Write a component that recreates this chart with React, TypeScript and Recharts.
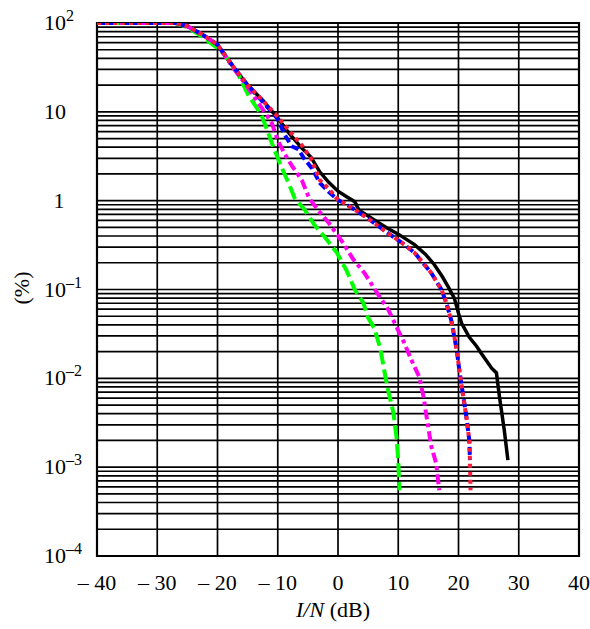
import { CartesianGrid, Line, LineChart, ReferenceArea, XAxis, YAxis } from "recharts"

// x: I/N (dB), y: percentage (log scale)
const xTicks = [-40, -30, -20, -10, 0, 10, 20, 30, 40]
const yDecades = [1e-4, 1e-3, 1e-2, 1e-1, 1, 10, 100]
const yMinorSteps = [2, 3, 4, 5, 6, 7, 8, 9]

const blackCurve = [
    [-40, 100], [-27, 100], [-25, 92], [-22.5, 74], [-20, 57], [-17.5, 33], [-15, 20],
    [-12.5, 13.5], [-10, 8.5], [-8, 5.6], [-6, 3.9], [-4.5, 3.1], [-3, 2.1], [-1.5, 1.6],
    [0, 1.28], [1.5, 1.1], [2.8, 0.97], [3.5, 0.78], [5.5, 0.64], [8, 0.5], [10, 0.42],
    [12.7, 0.32], [14.5, 0.25], [16, 0.19], [17.3, 0.14], [18.3, 0.107], [19.3, 0.08],
    [20, 0.054], [20.5, 0.042], [21.8, 0.029], [23, 0.023], [23.8, 0.019], [25.5, 0.013],
    [26.3, 0.0115], [26.8, 0.0062], [27.6, 0.0026], [28.2, 0.0012],
]

const greenCurve = [
    [-40, 100], [-27, 100], [-25, 90], [-22.5, 70], [-20, 52], [-18.8, 44], [-16.5, 26],
    [-14.9, 15.5], [-12.7, 9.2], [-12.2, 7.5], [-11, 4.5], [-9.4, 2.4], [-8.2, 1.58],
    [-7.2, 1.07], [-5.5, 0.785], [-3.9, 0.53], [-2.2, 0.39], [-0.2, 0.26], [1.4, 0.165],
    [2.8, 0.099], [4.2, 0.071], [5, 0.048], [6, 0.037], [7, 0.022], [7.7, 0.012],
    [8.3, 0.0074], [9.2, 0.0041], [9.7, 0.0022], [10, 0.0012], [10.2, 0.00055],
]

const magentaCurve = [
    [-40, 100], [-27, 100], [-25, 92], [-22.5, 74], [-20, 57], [-17.5, 32], [-15, 19],
    [-13.2, 12.5], [-12.2, 10], [-11, 7.5], [-10, 4.8], [-8.9, 3.4], [-7.7, 2.5], [-6, 1.7],
    [-4.8, 1.07], [-3.3, 0.78], [-1.6, 0.57], [0.9, 0.33], [2.5, 0.22], [4.4, 0.153],
    [6.9, 0.083], [8.3, 0.06], [9.4, 0.042], [11, 0.025], [12.2, 0.016], [13.5, 0.0103],
    [14.2, 0.0062], [14.7, 0.0037], [15.5, 0.0017], [16.3, 0.0011], [16.8, 0.00055],
]

const blueCurve = [
    [-40, 100], [-27, 100], [-25, 92], [-22.5, 74], [-20, 57], [-17.5, 33], [-15, 20],
    [-12.5, 13], [-10, 8.3], [-8.9, 5.6], [-7.7, 4.1], [-6.6, 3.8], [-5.5, 2.9], [-4.3, 2.3],
    [-3, 1.58], [-1.5, 1.25], [0, 1.02], [1.5, 0.9], [2.8, 0.79], [5, 0.63], [8.3, 0.43],
    [10.5, 0.34], [12.7, 0.26], [15.5, 0.153], [17.2, 0.099], [18, 0.07], [18.8, 0.045],
    [19.7, 0.021], [20.2, 0.0115], [20.8, 0.0062], [21.3, 0.0037], [21.8, 0.002], [21.9, 0.0012],
]

const redCurve = [
    [-40, 100], [-27, 100], [-25, 92], [-22.5, 74], [-20, 57], [-17.5, 33], [-15, 20],
    [-12.5, 13.5], [-10, 8.8], [-8, 6], [-6, 4.2], [-4.5, 3.0], [-3, 1.7], [-1.5, 1.35],
    [0, 1.02], [1.5, 0.9], [2.8, 0.79], [5, 0.63], [8.3, 0.43], [10.5, 0.34], [12.7, 0.26],
    [15.5, 0.153], [17.2, 0.099], [18, 0.07], [18.8, 0.045], [19.7, 0.021], [20.2, 0.0115],
    [20.8, 0.0062], [21.3, 0.0037], [21.8, 0.002], [21.9, 0.0012], [22, 0.00055],
]

const toPoints = (curve: number[][]) => curve.map(([x, y]) => ({ x, y }))

const yTicks: number[] = []
yDecades.forEach((d, i) => {
    yTicks.push(d)
    if (i < yDecades.length - 1) yMinorSteps.forEach((m) => yTicks.push(m * d))
})

const FONT = "'Liberation Serif', 'Times New Roman', serif"

function YTick({ y, payload }: any) {
    const v = payload.value
    const lg = Math.log10(v)
    const exp = Math.round(lg)
    if (Math.abs(lg - exp) > 1e-6) return <g />
    const base = y + 7
    if (exp === 0)
        return (
            <text x={59} y={base} textAnchor="middle" fontFamily={FONT} fontSize={22} fill="#000">
                1
            </text>
        )
    return (
        <text x={44} y={base} textAnchor="start" fontFamily={FONT} fontSize={22} fill="#000">
            10
            {exp !== 1 && (
                <tspan fontSize={16} dy={-9}>
                    {exp < 0 ? `–${-exp}` : `${exp}`}
                </tspan>
            )}
        </text>
    )
}

function XTick({ x, payload }: any) {
    const v = payload.value
    return (
        <text x={x} y={590} textAnchor="middle" fontFamily={FONT} fontSize={22} fill="#000">
            {v < 0 ? `– ${-v}` : `${v}`}
        </text>
    )
}

export default function App() {
    return (
        <div style={{ position: "absolute", left: 0, top: 0, width: 590, height: 629, background: "#fff" }}>
            <LineChart width={590} height={629} margin={{ top: 23, right: 11, left: 0, bottom: 0 }}>
                <CartesianGrid stroke="#000" strokeWidth={1.7} fill="none" />
                <XAxis
                    type="number"
                    dataKey="x"
                    domain={[-40, 40]}
                    ticks={xTicks}
                    allowDataOverflow
                    height={73}
                    axisLine={false}
                    tickLine={false}
                    tick={<XTick />}
                    label={{
                        content: () => (
                            <text x={333} y={617} textAnchor="middle" fontFamily={FONT} fontSize={22} fill="#000">
                                <tspan fontStyle="italic">I/N</tspan> (dB)
                            </text>
                        ),
                    }}
                />
                <YAxis
                    type="number"
                    dataKey="y"
                    scale="log"
                    domain={[1e-4, 100]}
                    ticks={yTicks}
                    allowDataOverflow
                    width={97}
                    axisLine={false}
                    tickLine={false}
                    interval={0}
                    tick={<YTick />}
                    label={{
                        content: () => (
                            <text
                                x={29}
                                y={288}
                                transform="rotate(-90 29 288)"
                                textAnchor="middle"
                                fontFamily={FONT}
                                fontSize={22}
                                fill="#000"
                            >
                                (%)
                            </text>
                        ),
                    }}
                />
                <ReferenceArea x1={-40} x2={40} y1={1e-4} y2={100} fill="none" stroke="#000" strokeWidth={2.2} zIndex={-50} />
                <Line data={toPoints(blackCurve)} dataKey="y" stroke="#000" strokeWidth={3.5} dot={false} isAnimationActive={false} />
                <Line data={toPoints(greenCurve)} dataKey="y" stroke="#00ff00" strokeWidth={4} strokeDasharray="14 5" dot={false} isAnimationActive={false} />
                <Line data={toPoints(magentaCurve)} dataKey="y" stroke="#ff00ee" strokeWidth={4} strokeDasharray="10 4 4 4" dot={false} isAnimationActive={false} />
                <Line data={toPoints(blueCurve)} dataKey="y" stroke="#0000ff" strokeWidth={4} strokeDasharray="8 4" dot={false} isAnimationActive={false} />
                <Line data={toPoints(redCurve)} dataKey="y" stroke="#ff1a3c" strokeWidth={4} strokeDasharray="4 4" dot={false} isAnimationActive={false} />
            </LineChart>
        </div>
    )
}
